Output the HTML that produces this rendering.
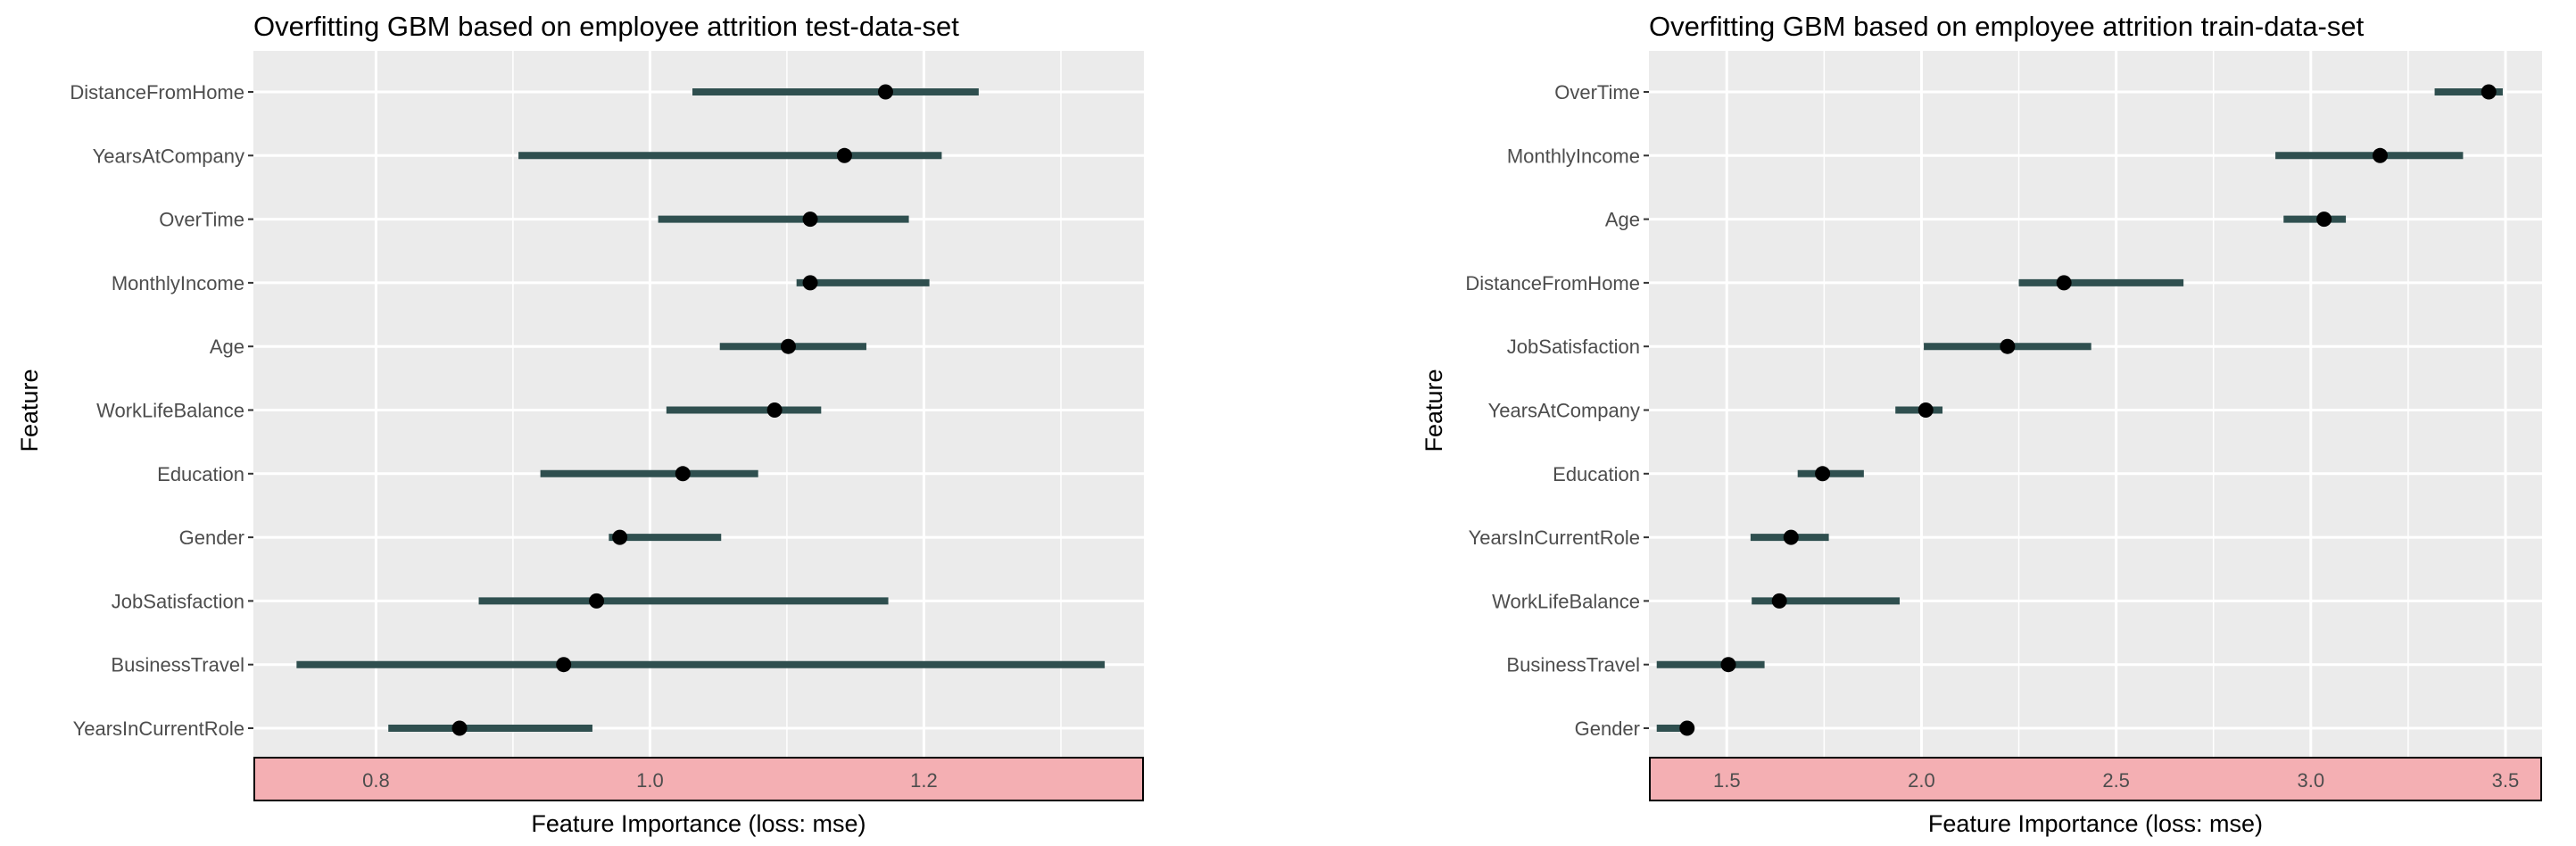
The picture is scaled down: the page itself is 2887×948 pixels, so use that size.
<!DOCTYPE html>
<html><head><meta charset="utf-8"><style>
html,body{margin:0;padding:0;background:#fff;}
svg{display:block;font-family:"Liberation Sans",Arial,sans-serif;}
</style></head><body>
<svg id="chart" width="2887" height="948" viewBox="0 0 2887 948"></svg>
<script>
const NS="http://www.w3.org/2000/svg";
// Left panel data (test set)
const testFeatures=["DistanceFromHome","YearsAtCompany","OverTime","MonthlyIncome","Age","WorkLifeBalance","Education","Gender","JobSatisfaction","BusinessTravel","YearsInCurrentRole"];
const testLow=[1.031,0.904,1.006,1.107,1.051,1.012,0.920,0.970,0.875,0.742,0.809];
const testMid=[1.172,1.142,1.117,1.117,1.101,1.091,1.024,0.978,0.961,0.937,0.861];
const testHigh=[1.240,1.213,1.189,1.204,1.158,1.125,1.079,1.052,1.174,1.332,0.958];
const testTicks=[0.8,1.0,1.2];
const testTickLabels=["0.8","1.0","1.2"];
const testMinor=[0.9,1.1,1.3];
// Right panel data (train set)
const trainFeatures=["OverTime","MonthlyIncome","Age","DistanceFromHome","JobSatisfaction","YearsAtCompany","Education","YearsInCurrentRole","WorkLifeBalance","BusinessTravel","Gender"];
const trainLow=[3.318,2.909,2.930,2.250,2.006,1.933,1.682,1.561,1.564,1.320,1.320];
const trainMid=[3.457,3.178,3.034,2.366,2.221,2.011,1.746,1.665,1.635,1.504,1.398];
const trainHigh=[3.493,3.391,3.090,2.673,2.436,2.054,1.852,1.762,1.944,1.597,1.410];
const trainTicks=[1.5,2.0,2.5,3.0,3.5];
const trainTickLabels=["1.5","2.0","2.5","3.0","3.5"];
const trainMinor=[1.25,1.75,2.25,2.75,3.25];

const svg=document.getElementById('chart');
function mk(tag,attrs,parent){const e=document.createElementNS(NS,tag);for(const k in attrs)e.setAttribute(k,attrs[k]);(parent||svg).appendChild(e);return e;}

function panel(cfg){
  const g=mk('g',{});
  
  
  const {left,right,top,bottom,dmin,dmax}=cfg;
  const x=v=>left+(v-dmin)/(dmax-dmin)*(right-left);
  const n=cfg.features.length;
  const rowTop=103,rowBot=816;
  const y=i=>rowTop+i*(rowBot-rowTop)/(n-1);
  const bg=mk('rect',{x:left,y:top,width:right-left,height:bottom-top,fill:'#ebebeb'},g);
  
  
  cfg.minor.forEach(v=>{const l=mk('line',{x1:x(v),x2:x(v),y1:top,y2:bottom,stroke:'#fff','stroke-width':1.5},g);
    
    });
  cfg.ticks.forEach(v=>{const l=mk('line',{x1:x(v),x2:x(v),y1:top,y2:bottom,stroke:'#fff','stroke-width':3},g);
    
    });
  cfg.features.forEach((f,i)=>{
    const l=mk('line',{x1:left,x2:right,y1:y(i),y2:y(i),stroke:'#fff','stroke-width':3},g);
    
    
    const tk=mk('line',{x1:left-6,x2:left,y1:y(i),y2:y(i),stroke:'#333','stroke-width':2},g);
    
    
    const t=mk('text',{x:left-10,y:y(i)+8,'text-anchor':'end','font-size':22,fill:'#4d4d4d'},g);
    t.textContent=f;
    
    
  });
  cfg.features.forEach((f,i)=>{
    const b=mk('line',{x1:x(cfg.low[i]),x2:x(cfg.high[i]),y1:y(i),y2:y(i),stroke:'#2f4f4f','stroke-width':8},g);
    
    
  });
  cfg.features.forEach((f,i)=>{
    const c=mk('circle',{cx:x(cfg.mid[i]),cy:y(i),r:8.5,fill:'#000'},g);
    
    
  });
  const strip=mk('rect',{x:left+1,y:bottom+1,width:right-left-2,height:48,fill:'#f4afb3',stroke:'#000','stroke-width':2},g);
  
  
  cfg.ticks.forEach((v,i)=>{
    const t=mk('text',{x:x(v),y:bottom+34,'text-anchor':'middle','font-size':22,fill:'#4d4d4d'},g);
    t.textContent=cfg.tickLabels[i];
    
    
  });
  const xt=mk('text',{x:(left+right)/2,y:932,'text-anchor':'middle','font-size':27,fill:'#000'},g);
  xt.textContent='Feature Importance (loss: mse)';
  
  
  const ti=mk('text',{x:left,y:40,'font-size':31,fill:'#000'},g);
  ti.textContent=cfg.title;
  
  
  const yt=mk('text',{x:cfg.ytx,y:460,'text-anchor':'middle','font-size':27,fill:'#000',transform:`rotate(-90 ${cfg.ytx} 460)`},g);
  yt.textContent='Feature';
  
  
}
panel({name:'test-panel',title:'Overfitting GBM based on employee attrition test-data-set',features:testFeatures,low:testLow,mid:testMid,high:testHigh,ticks:testTicks,tickLabels:testTickLabels,minor:testMinor,left:284,right:1282,top:57,bottom:848,dmin:0.7105,dmax:1.3606,ytx:42});
panel({name:'train-panel',title:'Overfitting GBM based on employee attrition train-data-set',features:trainFeatures,low:trainLow,mid:trainMid,high:trainHigh,ticks:trainTicks,tickLabels:trainTickLabels,minor:trainMinor,left:1848,right:2849,top:57,bottom:848,dmin:1.30,dmax:3.594,ytx:1616});
</script>
</body></html>
